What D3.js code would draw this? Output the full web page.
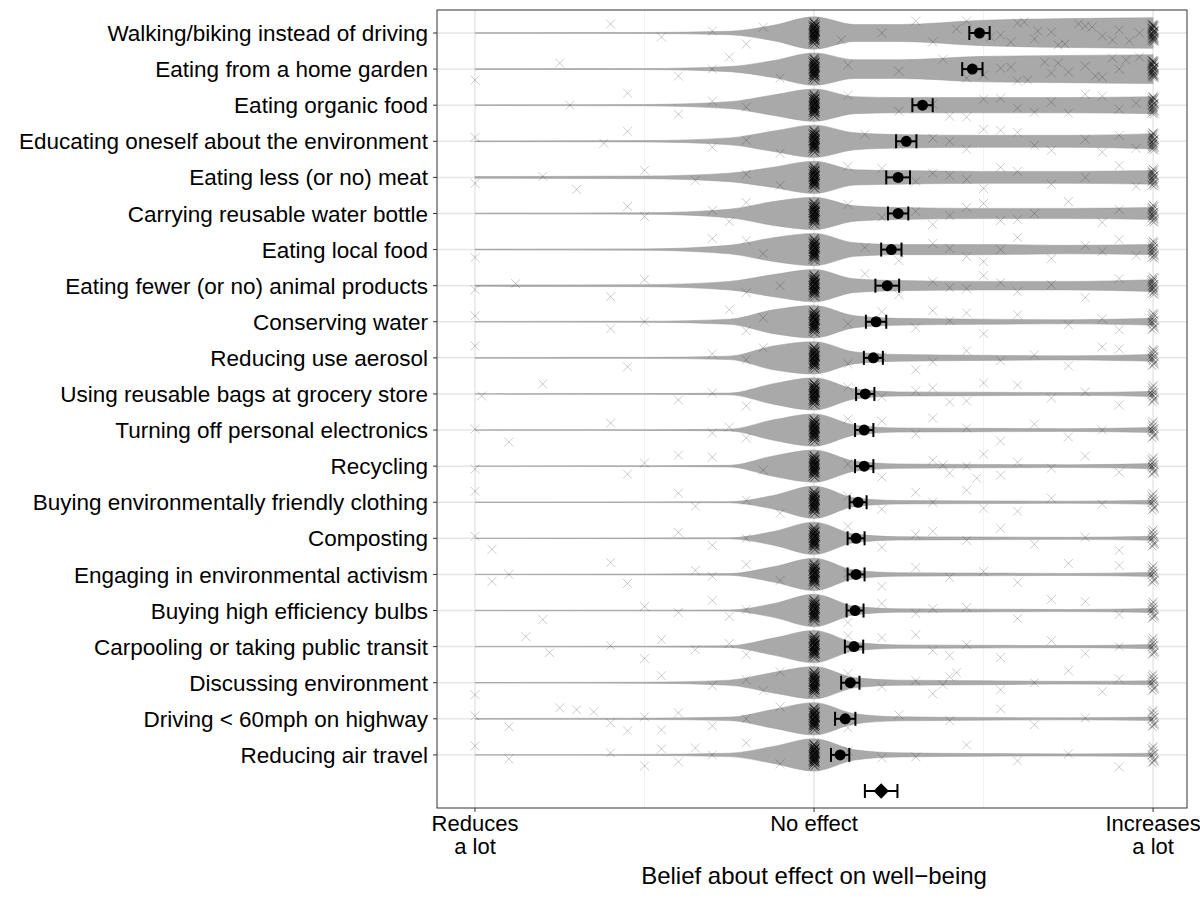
<!DOCTYPE html>
<html><head><meta charset="utf-8">
<script src="https://cdn.jsdelivr.net/npm/d3@7"></script>
<style>body{margin:0;background:#fff}text{font-family:"Liberation Sans",Arial,sans-serif}</style>
</head><body><svg id="c" width="1200" height="900"></svg>
<script>
// behaviours, top to bottom
const behaviours = ["Walking/biking instead of driving","Eating from a home garden","Eating organic food",
 "Educating oneself about the environment","Eating less (or no) meat","Carrying reusable water bottle",
 "Eating local food","Eating fewer (or no) animal products","Conserving water","Reducing use aerosol",
 "Using reusable bags at grocery store","Turning off personal electronics","Recycling",
 "Buying environmentally friendly clothing","Composting","Engaging in environmental activism",
 "Buying high efficiency bulbs","Carpooling or taking public transit","Discussing environment",
 "Driving < 60mph on highway","Reducing air travel"];
const means = [0.488,0.467,0.32,0.272,0.248,0.248,0.228,0.216,0.183,0.175,0.151,0.148,0.148,0.13,0.124,0.124,0.121,0.118,0.107,0.092,0.077];
const ciHalf = [0.03,0.03,0.03,0.03,0.035,0.03,0.03,0.035,0.03,0.028,0.027,0.027,0.027,0.025,0.025,0.025,0.025,0.027,0.027,0.03,0.027];
const overallMean = 0.198, overallCi = 0.048;

// violin half-widths (fraction of max) at these belief values
const densX = [-1,-0.5,-0.25,-0.12,0,0.12,0.25,0.5,0.75,1];
const dens = [
 [0.02,0.03,0.1,0.45,0.95,0.5,0.5,0.75,0.85,0.9],
 [0.02,0.03,0.15,0.5,0.95,0.55,0.55,0.75,0.8,0.85],
 [0.02,0.04,0.2,0.6,0.95,0.5,0.45,0.45,0.45,0.5],
 [0.02,0.04,0.2,0.6,0.95,0.5,0.4,0.35,0.35,0.45],
 [0.05,0.08,0.25,0.6,0.95,0.45,0.4,0.35,0.35,0.4],
 [0.02,0.04,0.25,0.7,0.95,0.45,0.35,0.3,0.3,0.35],
 [0.02,0.04,0.25,0.7,0.95,0.4,0.3,0.3,0.25,0.3],
 [0.04,0.06,0.25,0.65,0.95,0.4,0.3,0.25,0.25,0.35],
 [0.02,0.03,0.15,0.7,0.95,0.35,0.2,0.15,0.12,0.2],
 [0.02,0.03,0.1,0.7,0.95,0.35,0.2,0.15,0.12,0.2],
 [0.01,0.02,0.05,0.6,0.95,0.3,0.12,0.1,0.08,0.15],
 [0.01,0.02,0.05,0.6,0.95,0.3,0.12,0.1,0.08,0.15],
 [0.01,0.02,0.05,0.6,0.95,0.3,0.13,0.1,0.08,0.15],
 [0.01,0.02,0.03,0.4,0.95,0.25,0.1,0.08,0.06,0.12],
 [0.01,0.02,0.03,0.4,0.95,0.25,0.1,0.08,0.06,0.12],
 [0.01,0.02,0.05,0.45,0.95,0.25,0.1,0.08,0.06,0.12],
 [0.01,0.02,0.03,0.4,0.95,0.25,0.1,0.08,0.06,0.12],
 [0.01,0.02,0.05,0.5,0.95,0.25,0.1,0.08,0.06,0.12],
 [0.01,0.03,0.15,0.6,0.95,0.3,0.15,0.12,0.08,0.12],
 [0.02,0.04,0.1,0.55,0.95,0.3,0.12,0.08,0.06,0.1],
 [0.01,0.03,0.1,0.5,0.95,0.3,0.12,0.08,0.06,0.1]
];
// scattered responses away from the 0 / 1 clusters
const scatter = [
 [-0.6,-0.45,-0.3,-0.2,-0.15,0.08,0.2,0.3,0.35,0.42,0.55,0.6,0.65,0.7,0.72,0.8,0.85,0.9,0.93,0.62,0.78,0.52,0.66,0.74,0.82,0.88,0.96,0.45,0.58],
 [-1,-0.75,-0.4,-0.3,-0.25,-0.1,0.1,0.25,0.38,0.5,0.55,0.6,0.68,0.75,0.8,0.85,0.88,0.92,0.7,0.58,0.63,0.72,0.83,0.9,0.96,0.45],
 [-0.72,-0.55,-0.4,-0.3,-0.2,0.1,0.25,0.35,0.45,0.55,0.6,0.7,0.75,0.8,0.85,0.9,0.95,0.4,0.5,0.65],
 [-1,-0.62,-0.55,-0.3,-0.2,-0.1,0.15,0.25,0.35,0.45,0.55,0.6,0.65,0.8,0.85,0.9,0.95,0.4,0.5,0.7],
 [-1,-0.8,-0.7,-0.5,-0.35,-0.2,-0.1,0.1,0.2,0.3,0.4,0.5,0.6,0.7,0.8,0.9,0.95,0.35,0.45,0.55],
 [-0.55,-0.5,-0.3,-0.25,-0.2,0.1,0.2,0.3,0.35,0.45,0.55,0.65,0.75,0.85,0.9,0.4,0.5,0.6],
 [-1,-0.3,-0.2,-0.15,0.15,0.25,0.35,0.45,0.55,0.6,0.7,0.8,0.85,0.9,0.95,0.4,0.5],
 [-1,-0.88,-0.6,-0.5,-0.2,-0.1,0.15,0.25,0.35,0.4,0.5,0.6,0.7,0.8,0.9,0.45,0.55],
 [-1,-0.6,-0.5,-0.25,-0.2,-0.15,0.1,0.2,0.3,0.4,0.5,0.6,0.75,0.85,0.9,0.35,0.45],
 [-1,-0.55,-0.3,-0.2,-0.15,0.1,0.2,0.3,0.45,0.55,0.65,0.75,0.85,0.9,0.35],
 [-0.98,-0.8,-0.4,-0.3,-0.2,0.1,0.2,0.3,0.4,0.5,0.6,0.7,0.8,0.9,0.35,0.45],
 [-1,-0.9,-0.6,-0.3,-0.25,-0.2,0.1,0.2,0.3,0.45,0.55,0.65,0.75,0.85,0.35],
 [-1,-0.5,-0.55,-0.4,-0.3,-0.15,0.1,0.2,0.35,0.4,0.45,0.5,0.55,0.6,0.7,0.8,0.9,0.38,0.48],
 [-1,-0.4,-0.35,-0.2,-0.1,0.1,0.2,0.35,0.45,0.6,0.7,0.85,0.3,0.5],
 [-1,-0.95,-0.4,-0.3,-0.2,0.1,0.2,0.3,0.45,0.55,0.65,0.8,0.9,0.35],
 [-0.95,-0.9,-0.6,-0.55,-0.35,-0.3,-0.2,-0.1,0.1,0.2,0.3,0.4,0.5,0.6,0.75,0.9],
 [-0.8,-0.5,-0.4,-0.3,-0.25,-0.2,0.1,0.2,0.3,0.45,0.6,0.7,0.8,0.9,0.35],
 [-0.85,-0.78,-0.6,-0.5,-0.45,-0.35,-0.25,-0.2,0.1,0.2,0.35,0.45,0.55,0.7,0.8,0.9,0.3,0.4],
 [-1,-0.45,-0.3,-0.2,-0.15,-0.1,0.1,0.2,0.3,0.35,0.4,0.55,0.65,0.75,0.85,0.9,0.38,0.42],
 [-1,-0.9,-0.75,-0.7,-0.6,-0.5,-0.45,-0.4,-0.3,-0.2,-0.1,0.1,0.25,0.4,0.55,0.65,0.8,-0.55,-0.65],
 [-1,-0.9,-0.6,-0.5,-0.45,-0.4,-0.3,-0.2,-0.1,0.1,0.3,0.45,0.6,0.75,0.9,-0.35,0.2]
];
// vertical jitter offsets (px) cycled through for crosses
const jitterY = [-9,4,-2,11,-6,7,0,-12,9,-4,2,-10,6,-1,12,-7,3,-3,8,-11];
const xTicks = [-1,0,1], xTickLabels = ["Reduces\na lot","No effect","Increases\na lot"];
const xMinor = [-0.5,0.5];

const svg = d3.select("#c");
const P = {l:437,r:1187,t:10,b:808};
const x = d3.scaleLinear().domain([-1.112,1.1]).range([P.l,P.r]);
const y = d3.scalePoint().domain(d3.range(22)).range([33,791]);

svg.selectAll(".gm").data(xMinor).join("line").attr("x1",d=>x(d)).attr("x2",d=>x(d))
 .attr("y1",P.t).attr("y2",P.b).attr("stroke","#f2f2f2").attr("stroke-width",1);
svg.selectAll(".gx").data(xTicks).join("line").attr("x1",d=>x(d)).attr("x2",d=>x(d))
 .attr("y1",P.t).attr("y2",P.b).attr("stroke","#e6e6e6").attr("stroke-width",1.5);
svg.selectAll(".gy").data(d3.range(21)).join("line").attr("x1",P.l).attr("x2",P.r)
 .attr("y1",d=>y(d)).attr("y2",d=>y(d)).attr("stroke","#e6e6e6").attr("stroke-width",1.5);

const maxW = 17;
const area = d3.area().curve(d3.curveMonotoneX).x(d=>x(d[0]))
 .y0(d=>d[2]-d[1]*maxW).y1(d=>d[2]+d[1]*maxW);
dens.forEach((row,i)=>{
  svg.append("path").datum(row.map((v,j)=>[densX[j],v,y(i)])).attr("d",area)
   .attr("fill","#a9a9a9").attr("stroke","#9a9a9a").attr("stroke-width",0.5);
});

function cross(g,cx,cy,op){
  const s=4.5;
  g.append("path").attr("d",`M${cx-s},${cy-s}L${cx+s},${cy+s}M${cx-s},${cy+s}L${cx+s},${cy-s}`)
   .attr("stroke","#000").attr("stroke-opacity",op||0.2).attr("stroke-width",1).attr("fill","none");
}
const pts = svg.append("g");
behaviours.forEach((b,i)=>{
  scatter[i].forEach((v,k)=>cross(pts,x(v),y(i)+jitterY[(k+i*3)%jitterY.length]));
  jitterY.forEach((o,k)=>{cross(pts,x(0)+(k%3-1),y(i)+o*0.9,0.5);cross(pts,x(0)+(k%2),y(i)+o*0.6,0.5);});
  const ones = Math.round(6+dens[i][9]*30);
  for(let k=0;k<ones;k++) cross(pts,x(1)+(k%3-1),y(i)+jitterY[k%jitterY.length]*0.7,0.3);
});

// means with CIs
const mg = svg.append("g").attr("stroke","#000").attr("stroke-width",2);
means.forEach((m,i)=>{
  const cy=y(i), a=x(m-ciHalf[i]), b=x(m+ciHalf[i]);
  mg.append("line").attr("x1",a).attr("x2",b).attr("y1",cy).attr("y2",cy);
  mg.append("line").attr("x1",a).attr("x2",a).attr("y1",cy-7).attr("y2",cy+7);
  mg.append("line").attr("x1",b).attr("x2",b).attr("y1",cy-7).attr("y2",cy+7);
  svg.append("circle").attr("cx",x(m)).attr("cy",cy).attr("r",5.5).attr("fill","#000");
});
{
  const cy=y(21), a=x(overallMean-overallCi), b=x(overallMean+overallCi);
  mg.append("line").attr("x1",a).attr("x2",b).attr("y1",cy).attr("y2",cy);
  mg.append("line").attr("x1",a).attr("x2",a).attr("y1",cy-7).attr("y2",cy+7);
  mg.append("line").attr("x1",b).attr("x2",b).attr("y1",cy-7).attr("y2",cy+7);
  svg.append("path").attr("d",d3.symbol(d3.symbolDiamond2,150)()).attr("transform",`translate(${x(overallMean)},${cy})`).attr("fill","#000");
}

svg.append("rect").attr("x",P.l).attr("y",P.t).attr("width",P.r-P.l).attr("height",P.b-P.t)
 .attr("fill","none").attr("stroke","#333").attr("stroke-width",1);

// y labels
behaviours.forEach((b,i)=>{
  svg.append("line").attr("x1",P.l-4).attr("x2",P.l).attr("y1",y(i)).attr("y2",y(i)).attr("stroke","#333");
  svg.append("text").attr("x",P.l-9).attr("y",y(i)).attr("dy","0.36em").attr("text-anchor","end")
   .attr("font-size",22.5).attr("fill","#000").text(b);
});
// x ticks
xTicks.forEach((t,i)=>{
  svg.append("line").attr("x1",x(t)).attr("x2",x(t)).attr("y1",P.b).attr("y2",P.b+4).attr("stroke","#333");
  const tx = svg.append("text").attr("text-anchor","middle").attr("font-size",22).attr("fill","#000");
  xTickLabels[i].split("\n").forEach((l,k)=>tx.append("tspan").attr("x",x(t)).attr("y",831+k*23).text(l));
});
svg.append("text").attr("x",x(0)).attr("y",884).attr("text-anchor","middle").attr("font-size",24)
 .attr("fill","#000").text("Belief about effect on well\u2212being");
</script></body></html>
